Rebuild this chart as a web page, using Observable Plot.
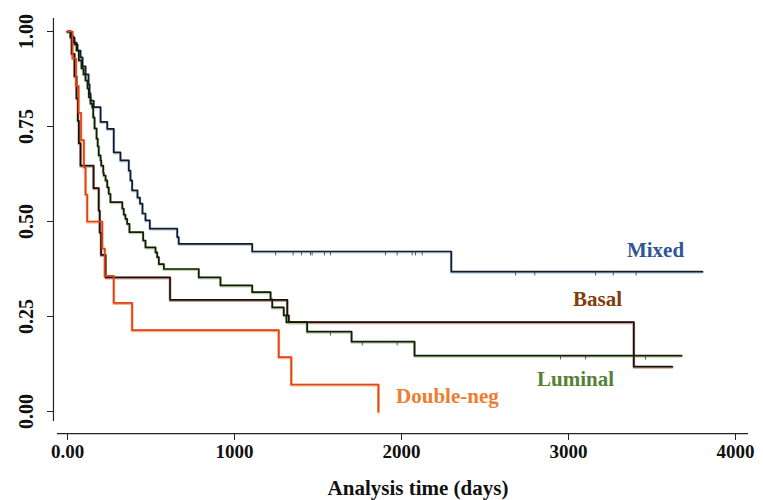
<!DOCTYPE html>
<html><head><meta charset="utf-8">
<script src="https://cdn.jsdelivr.net/npm/d3@7"></script>
<script src="https://cdn.jsdelivr.net/npm/@observablehq/plot@0.6"></script>
<style>body{margin:0;background:#fff}</style>
</head><body><div id="chart"></div>
<script>
// ---- data (days, survival probability) ----
const seriesNames = ["Mixed", "Basal", "Luminal", "Double-neg"];

const mixedTime = [0,18,42,60,78,90,108,126,132,138,157,198,238,277,317,367,377,387,419,434,449,467,493,657,666,1106,2298,3802];
const mixedSurv = [1,0.984,0.966,0.950,0.932,0.908,0.887,0.861,0.837,0.818,0.801,0.762,0.744,0.682,0.661,0.634,0.608,0.582,0.563,0.547,0.521,0.503,0.481,0.459,0.441,0.421,0.368,0.368];
const mixedCensor = [1246,1351,1401,1455,1465,1539,1575,1904,1974,2064,2084,2124,2683,2798,3162,3268,3405];

const basalTime = [0,25,42,54,62,68,78,156,187,193,201,228,614,1316,1325,3391,3621];
const basalSurv = [1,0.941,0.882,0.824,0.765,0.706,0.647,0.588,0.529,0.471,0.412,0.353,0.294,0.253,0.235,0.118,0.118];

const luminalTime = [0,18,36,54,68,84,96,108,120,128,138,148,154,162,174,181,187,198,202,214,217,228,238,247,257,328,337,347,357,371,453,467,527,537,547,577,786,916,1106,1216,1226,1295,1311,1435,1701,2078,3677];
const luminalSurv = [1,0.987,0.971,0.950,0.924,0.903,0.887,0.871,0.850,0.827,0.810,0.800,0.774,0.745,0.718,0.698,0.674,0.661,0.647,0.629,0.621,0.608,0.590,0.573,0.551,0.534,0.518,0.507,0.494,0.472,0.450,0.432,0.419,0.406,0.388,0.375,0.353,0.332,0.314,0.295,0.274,0.253,0.235,0.210,0.184,0.147,0.147];
const luminalCensor = [1575,1765,1974,2952,3102,3461];

const dnegTime = [0,30,51,66,81,98,108,118,208,223,277,387,1265,1340,1862];
const dnegSurv = [1,0.929,0.857,0.786,0.714,0.643,0.571,0.5,0.429,0.357,0.286,0.214,0.143,0.071,0];

const xTicks = [0,1000,2000,3000,4000];
const yTicks = [0,0.25,0.5,0.75,1];

// ---- styles ----
const labelColor = {"Mixed":"#2f5597","Basal":"#843c0c","Luminal":"#548235","Double-neg":"#ed7d31"};
const haloColor  = {"Mixed":"#a9c8e6","Basal":"#c58a70","Luminal":"#a8cc8a","Double-neg":"#f5a25a"};
const coreColor  = {"Mixed":"#141c28","Basal":"#161010","Luminal":"#141a0e","Double-neg":"#e2421c"};
const labelPos   = {"Mixed":[3521,0.424],"Basal":[3174,0.296],"Luminal":[3042,0.084],"Double-neg":[2275,0.039]};

const build = (name, T, S) => T.map((t, i) => ({series: name, t, s: S[i]}));
const curves = [
  build("Mixed", mixedTime, mixedSurv),
  build("Basal", basalTime, basalSurv),
  build("Luminal", luminalTime, luminalSurv),
  build("Double-neg", dnegTime, dnegSurv)
];
const stepAt = (T, S, t) => { let v = S[0]; for (let i = 0; i < T.length; i++) if (T[i] <= t) v = S[i]; return v; };
const censors = [
  ...mixedCensor.map(t => ({series:"Mixed", t, s: stepAt(mixedTime, mixedSurv, t)})),
  ...luminalCensor.map(t => ({series:"Luminal", t, s: stepAt(luminalTime, luminalSurv, t)}))
];
const labels = seriesNames.map(n => ({series: n, t: labelPos[n][0], s: labelPos[n][1]}));

const font = "'Liberation Serif', 'Times New Roman', serif";
const tickShape = {draw(ctx, l) { ctx.moveTo(0, -l/2); ctx.lineTo(0, l/2); }};

const marks = [];
for (const c of curves) {
  const n = c[0].series;
  marks.push(Plot.line(c, {x:"t", y:"s", curve:"step-after", stroke: haloColor[n], strokeWidth: 2.8, strokeOpacity: 0.8, dy: 0.7}));
}
for (const c of curves) {
  const n = c[0].series;
  marks.push(Plot.line(c, {x:"t", y:"s", curve:"step-after", stroke: coreColor[n], strokeWidth: 1.7}));
}
marks.push(
  Plot.vector(censors, {x:"t", y:"s", length: 3.5, rotate: 0, anchor:"middle", shape: tickShape, stroke:"#333", strokeWidth: 0.8}),
  Plot.text(labels, {x:"t", y:"s", text:"series", fill: d => labelColor[d.series], fontSize: 21, fontWeight:"bold", fontFamily: font}),
  // axis lines
  Plot.ruleX([-84], {y1: -0.026, y2: 1.034, stroke:"#222", strokeWidth: 1.2}),
  Plot.ruleY([-0.058], {x1: -60, x2: 4078, stroke:"#222", strokeWidth: 1.2}),
  Plot.axisY(yTicks, {anchor:"left", tickSize: 6, tickPadding: 15, tickRotate: -90, tickFormat: d3.format(".2f"), label: null,
    fontSize: 20, fontWeight:"bold", fontFamily: font, fill:"#111", stroke:"#222"}),
  Plot.axisX(xTicks, {anchor:"bottom", tickSize: 7, tickPadding: 4, tickFormat: d => d === 0 ? "0.00" : String(d), label: null,
    fontSize: 19, fontWeight:"bold", fontFamily: font, fill:"#111", stroke:"#222"}),
  Plot.text(["Analysis time (days)"], {frameAnchor:"bottom", dx: 16, dy: 61, fontSize: 21, fontWeight:"bold", fontFamily: font, fill:"#111"})
);

const chart = Plot.plot({
  width: 763, height: 500,
  marginLeft: 53, marginRight: 13, marginTop: 18, marginBottom: 67,
  style: {background: "#fff", fontFamily: font},
  x: {domain: [0, 4000], range: [67, 735], axis: null},
  y: {domain: [0, 1], range: [411, 31], axis: null},
  marks
});
document.getElementById("chart").appendChild(chart);
</script>
</body></html>
